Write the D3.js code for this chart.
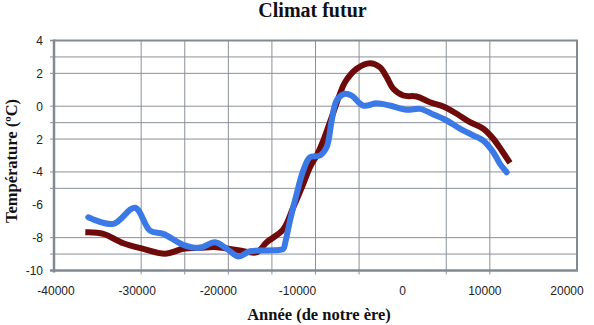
<!DOCTYPE html>
<html>
<head>
<meta charset="utf-8">
<script src="https://cdn.jsdelivr.net/npm/d3@7"></script>
<style>
  html, body { margin: 0; padding: 0; background: #fff; }
  svg { display: block; }
</style>
</head>
<body>
<svg id="chart" width="594" height="325"></svg>
<script>
// Reconstructed temperature (°C) against year of our era
const redYears = [-36065, -34344, -32050, -29755, -27266, -25167, -23251, -21335, -18662, -16746, -15599, -13695, -12547, -11400, -10632, -9863, -9106, -8142, -7190, -6616, -5273, -3748, -2601, -1833, -1075, 72, 1609, 3135, 4662, 6198, 7724, 9250, 10397, 11360, 12119];
const redTemps = [-7.67, -7.77, -8.34, -8.68, -8.98, -8.68, -8.62, -8.58, -8.78, -8.89, -8.28, -7.5, -6.15, -4.72, -3.71, -3.0, -2.09, -0.67, 0.76, 1.46, 2.28, 2.62, 2.37, 1.77, 1.06, 0.65, 0.59, 0.24, -0.02, -0.46, -0.97, -1.37, -1.98, -2.7, -3.3];

const blueYears = [-36065, -33197, -30708, -28987, -27461, -25167, -23251, -21530, -20188, -18857, -17515, -15599, -13695, -13500, -12926, -12157, -11400, -10632, -9484, -8716, -8142, -7568, -6616, -5848, -4517, -2980, -1454, 462, 1988, 3513, 5051, 6576, 8103, 9250, 10397, 11165, 11934];
const blueTemps = [-6.76, -7.16, -6.18, -7.57, -7.77, -8.44, -8.62, -8.28, -8.68, -9.15, -8.83, -8.78, -8.68, -8.37, -6.96, -5.33, -3.91, -3.1, -3.0, -2.49, -0.87, 0.35, 0.76, 0.65, 0.04, 0.18, 0.04, -0.22, -0.16, -0.5, -0.87, -1.37, -1.78, -2.09, -2.8, -3.51, -4.02];

// Axis ticks and labels
const xTickValues = [-40000, -30000, -20000, -10000, 0, 10000, 20000];
const xTickLabels = ["-40000", "-30000", "-20000", "-10000", "0", "10000", "20000"];
const yTickValues = [4, 2, 0, -2, -4, -6, -8, -10];
const yTickLabels = ["4", "2", "0", "2", "-4", "-6", "-8", "-10"];
const xGridValues = [-30000, -25000, -20000, -15000, -10000, -5000, 5000, 10000];
const yGridValues = [3, 2, 0, -1, -2, -4, -5, -8, -9];

const svg = d3.select("#chart");
const plotLeft = 54, plotRight = 577, plotTop = 40.5, plotBottom = 270.5;

const x = d3.scaleLinear().domain([-40000, 20000]).range([plotLeft, plotRight]);
const y = d3.scaleLinear().domain([-10, 4]).range([plotBottom, plotTop]);

const gridColor = "#8b9099";
const axisColor = "#838993";

// grid
svg.append("g").selectAll("line").data(xGridValues).join("line")
  .attr("x1", d => x(d)).attr("x2", d => x(d))
  .attr("y1", plotTop).attr("y2", plotBottom + 4)
  .attr("stroke", gridColor).attr("stroke-width", 1);
svg.append("g").selectAll("line").data(yGridValues).join("line")
  .attr("x1", plotLeft - 4).attr("x2", plotRight)
  .attr("y1", d => y(d)).attr("y2", d => y(d))
  .attr("stroke", gridColor).attr("stroke-width", 1);

// frame: top and right border
svg.append("path")
  .attr("d", `M${plotLeft},${plotTop}H${plotRight}V${plotBottom}`)
  .attr("fill", "none").attr("stroke", axisColor).attr("stroke-width", 2);

// axis lines
svg.append("line").attr("x1", plotLeft).attr("x2", plotLeft).attr("y1", plotTop - 1).attr("y2", plotBottom + 2)
  .attr("stroke", axisColor).attr("stroke-width", 2.5);
svg.append("line").attr("x1", plotLeft - 4).attr("x2", plotRight + 1).attr("y1", plotBottom).attr("y2", plotBottom)
  .attr("stroke", axisColor).attr("stroke-width", 2.5);
svg.append("line").attr("x1", plotLeft - 4).attr("x2", plotLeft).attr("y1", plotTop).attr("y2", plotTop)
  .attr("stroke", axisColor).attr("stroke-width", 1.5);

// series
const line = d3.line().curve(d3.curveCatmullRom.alpha(0.5));
const redPts = redYears.map((yr, i) => [x(yr), y(redTemps[i])]);
const bluePts = blueYears.map((yr, i) => [x(yr), y(blueTemps[i])]);

svg.append("path").attr("d", line(redPts))
  .attr("fill", "none").attr("stroke", "#6e0a0a").attr("stroke-width", 6)
  .attr("stroke-linejoin", "round").attr("stroke-linecap", "square");
svg.append("path").attr("d", line(bluePts))
  .attr("fill", "none").attr("stroke", "#3a79e6").attr("stroke-width", 6)
  .attr("stroke-linejoin", "round").attr("stroke-linecap", "round");

// tick labels
const labelFont = "'Liberation Sans', Arial, sans-serif";
const xLabelShift = [2, -4, -10, -18, 0, -5, -10];
svg.append("g").selectAll("text").data(xTickValues).join("text")
  .attr("x", (d, i) => x(d) + xLabelShift[i])
  .attr("y", 295)
  .attr("text-anchor", "middle")
  .attr("font-family", labelFont).attr("font-size", 12).attr("fill", "#222")
  .text((d, i) => xTickLabels[i]);

svg.append("g").selectAll("text").data(yTickValues).join("text")
  .attr("x", 43)
  .attr("y", d => y(d) + 4.5)
  .attr("text-anchor", "end")
  .attr("font-family", labelFont).attr("font-size", 12).attr("fill", "#222")
  .text((d, i) => yTickLabels[i]);

// titles
const titleFont = "'Liberation Serif', 'Times New Roman', serif";
svg.append("text").attr("x", 312.5).attr("y", 17).attr("text-anchor", "middle")
  .attr("font-family", titleFont).attr("font-weight", "bold").attr("font-size", 20)
  .attr("fill", "#111").text("Climat futur");
svg.append("text").attr("x", 319).attr("y", 320).attr("text-anchor", "middle")
  .attr("font-family", titleFont).attr("font-weight", "bold").attr("font-size", 16.5)
  .attr("fill", "#111").text("Année (de notre ère)");
svg.append("text").attr("transform", "translate(17,161) rotate(-90)").attr("text-anchor", "middle")
  .attr("font-family", titleFont).attr("font-weight", "bold").attr("font-size", 16.5)
  .attr("fill", "#111").text("Température (ºC)");
</script>
</body>
</html>
